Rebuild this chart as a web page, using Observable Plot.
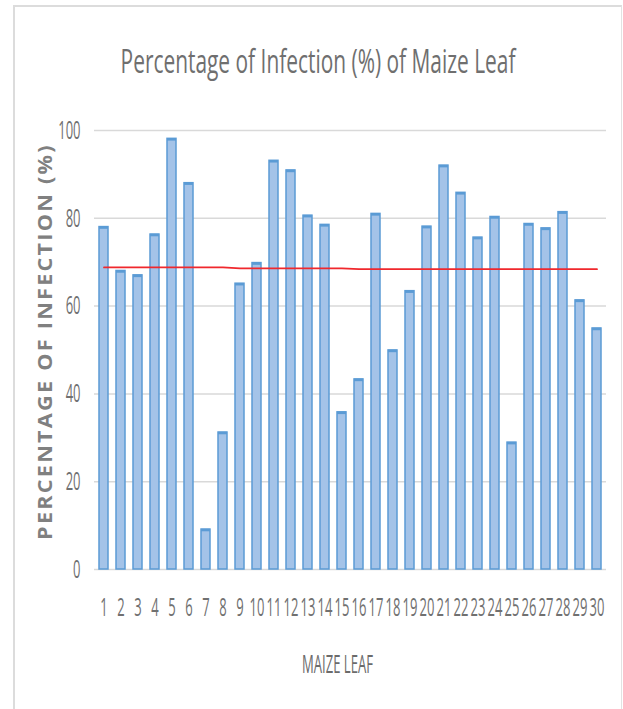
<!DOCTYPE html>
<html><head><meta charset="utf-8">
<script src="https://cdn.jsdelivr.net/npm/d3@7"></script>
<script src="https://cdn.jsdelivr.net/npm/@observablehq/plot@0.6"></script>
<style>
html,body{margin:0;padding:0;background:#fff;}
#wrap{position:relative;width:623px;height:709px;overflow:hidden;}
#frame{position:absolute;left:13px;top:5px;width:606px;height:720px;border-top:2px solid #dcdcdc;border-left:2px solid #dcdcdc;border-right:1px solid #e2e2e2;}
#chart{position:absolute;left:0;top:0;}
</style></head><body><div id="wrap"><div id="frame"></div><div id="chart"></div></div>
<script>
const leaves = [1,2,3,4,5,6,7,8,9,10,11,12,13,14,15,16,17,18,19,20,21,22,23,24,25,26,27,28,29,30];
const infection = [78,68,67,76.3,98.1,88,9.1,31.2,65.1,69.8,93.1,90.9,80.6,78.5,35.8,43.3,81,49.9,63.4,78.1,92,85.8,75.6,80.3,28.9,78.7,77.7,81.4,61.3,54.9];
const meanLine = [68.8,68.8,68.8,68.8,68.8,68.8,68.8,68.8,68.6,68.6,68.6,68.6,68.6,68.6,68.6,68.4,68.4,68.4,68.4,68.4,68.4,68.4,68.4,68.4,68.4,68.4,68.4,68.4,68.4,68.4];
const yTicks = [0,20,40,60,80,100];
const titleText = "Percentage of Infection (%) of Maize Leaf";
const yLabel = "PERCENTAGE OF INFECTION (%)";
const xLabel = "MAIZE LEAF";

const data = leaves.map((leaf, i) => ({leaf, value: infection[i], mean: meanLine[i]}));

const plot = Plot.plot({
  width: 623, height: 709,
  marginTop: 130, marginBottom: 140, marginLeft: 94, marginRight: 17,
  style: {fontFamily: "'Open Sans', sans-serif", background: "transparent", overflow: "visible"},
  x: {type: "band", domain: leaves, paddingInner: 0.49, paddingOuter: 0.22},
  y: {domain: [0, 100]},
  marks: [
    Plot.gridY(yTicks, {stroke: "#d9d9d9", strokeOpacity: 1, strokeWidth: 1.5}),
    Plot.barY(data, {x: "leaf", y: "value", fill: "#a4c3e8", stroke: "#5b9bd5", strokeWidth: 1.5}),
    Plot.tickY(data, {x: "leaf", y: "value", stroke: "#5b9bd5", strokeWidth: 2.5, dy: 0.5}),
    Plot.line(data, {x: "leaf", y: "mean", stroke: "#f0282d", strokeWidth: 1.8}),
    Plot.axisY(yTicks, {tickSize: 0, tickPadding: 14, fontSize: 26, fill: "#707070", label: null}),
    Plot.axisX({tickSize: 0, tickPadding: 28, fontSize: 26, fill: "#707070", label: null})
  ]
});
document.getElementById("chart").appendChild(plot);

const svg = d3.select(plot);
svg.selectAll('g[aria-label="x-axis tick label"] text, g[aria-label="y-axis tick label"] text').each(function() {
  const t = this.getAttribute("transform") || "";
  this.setAttribute("transform", t + " scale(0.5,1)");
});

function fitText(str, x, y, targetWidth, rotate, attrs) {
  const g = svg.append("g");
  const t = g.append("text").attr("text-anchor", "middle").text(str);
  for (const k in attrs) t.attr(k, attrs[k]);
  const w = t.node().getComputedTextLength();
  const s = targetWidth / w;
  g.attr("transform", `translate(${x},${y})${rotate ? ` rotate(${rotate})` : ""} scale(${s},1)`);
  return t;
}

fitText(titleText, 318, 73, 395, 0, {"font-size": 33, fill: "#6f6f6f"});
fitText(yLabel, 52, 341.5, 397, -90, {"font-size": 19, "font-weight": "bold", fill: "#808080", "letter-spacing": "2px"});
fitText(xLabel, 337.5, 673, 71, 0, {"font-size": 25, fill: "#6b6b6b"});
</script>
</body></html>
